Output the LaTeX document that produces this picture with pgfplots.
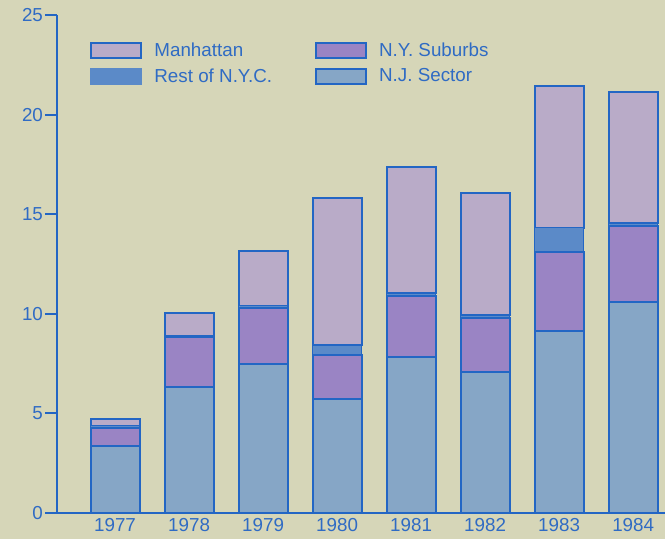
\documentclass[border=0pt]{standalone}
\usepackage{fontspec}
\setmainfont{Liberation Sans}
\usepackage{pgfplots}
\pgfplotsset{compat=1.18}
\usetikzlibrary{backgrounds}
\definecolor{bg}{HTML}{D6D6B8}
\definecolor{lineblue}{HTML}{2366C4}
\definecolor{textblue}{HTML}{2F6BC4}
\definecolor{njc}{HTML}{86A6C6}
\definecolor{subc}{HTML}{9A84C4}
\definecolor{restc}{HTML}{5B8AC8}
\definecolor{manc}{HTML}{B9ABC8}
\begin{document}
\begin{tikzpicture}
\begin{axis}[
  scale only axis, width=304pt, height=249pt,
  xmin=-0.784, xmax=7.43, ymin=0, ymax=25,
  axis x line*=bottom, axis y line*=left,
  axis line style={draw=lineblue, line width=1pt, -},
  ytick={0,5,10,15,20,25},
  xtick={0,1,2,3,4,5,6,7},
  xticklabels={1977,1978,1979,1980,1981,1982,1983,1984},
  tick align=outside, major tick length=6pt,
  ytick style={draw=lineblue, line width=1pt},
  xtick style={draw=none},
  tick label style={font=\fontsize{9.4}{11}\selectfont, text=textblue},
  /pgf/number format/assume math mode=true,
  yticklabel style={xshift=2.5pt},
  xticklabel style={yshift=7pt},
  ybar stacked, bar width=24.5pt,
  legend columns=2,
  legend entries={Manhattan, N.Y. Suburbs, Rest of N.Y.C., N.J. Sector},
  legend style={at={(rel axis cs:0.0543,0.9458)}, anchor=north west,
    draw=none, fill=none, inner sep=0pt, row sep=4.5pt,
    font=\fontsize{9.4}{11}\selectfont, text=textblue,
    /tikz/every odd column/.append style={column sep=6pt},
    /tikz/every even column/.append style={column sep=21.5pt},
    nodes={inner sep=0pt, anchor=west}},
  legend image code/.code={\draw[#1] (0pt,-3.75pt) rectangle (25pt,3.75pt);},
]
\addlegendimage{fill=manc, draw=lineblue, line width=1pt}
\addlegendimage{fill=subc, draw=lineblue, line width=1pt}
\addlegendimage{fill=restc, draw=restc, line width=1pt}
\addlegendimage{fill=njc, draw=lineblue, line width=1pt}
\addplot[fill=njc, draw=lineblue, line width=1pt] coordinates {(0,3.38) (1,6.34) (2,7.5) (3,5.72) (4,7.85) (5,7.06) (6,9.15) (7,10.58)};
\addplot[fill=subc, draw=lineblue, line width=1pt] coordinates {(0,0.87) (1,2.48) (2,2.78) (3,2.21) (4,3.05) (5,2.71) (6,3.93) (7,3.84)};
\addplot[fill=restc, draw=lineblue, line width=0.6pt] coordinates {(0,0.14) (1,0.08) (2,0.12) (3,0.5) (4,0.13) (5,0.17) (6,1.24) (7,0.12)};
\addplot[fill=manc, draw=lineblue, line width=1pt] coordinates {(0,0.34) (1,1.15) (2,2.75) (3,7.37) (4,6.32) (5,6.11) (6,7.13) (7,6.61)};
\coordinate (ll) at (rel axis cs:0,0);
\coordinate (ur) at (rel axis cs:1,1);
\end{axis}
\pgfresetboundingbox
\path ([xshift=-28.5pt,yshift=-13pt]ll) rectangle ([yshift=7.5pt]ur);
\begin{scope}[on background layer]
\fill[bg] ([xshift=-28.5pt,yshift=-13pt]ll) rectangle ([yshift=7.5pt]ur);
\end{scope}
\end{tikzpicture}
\end{document}
